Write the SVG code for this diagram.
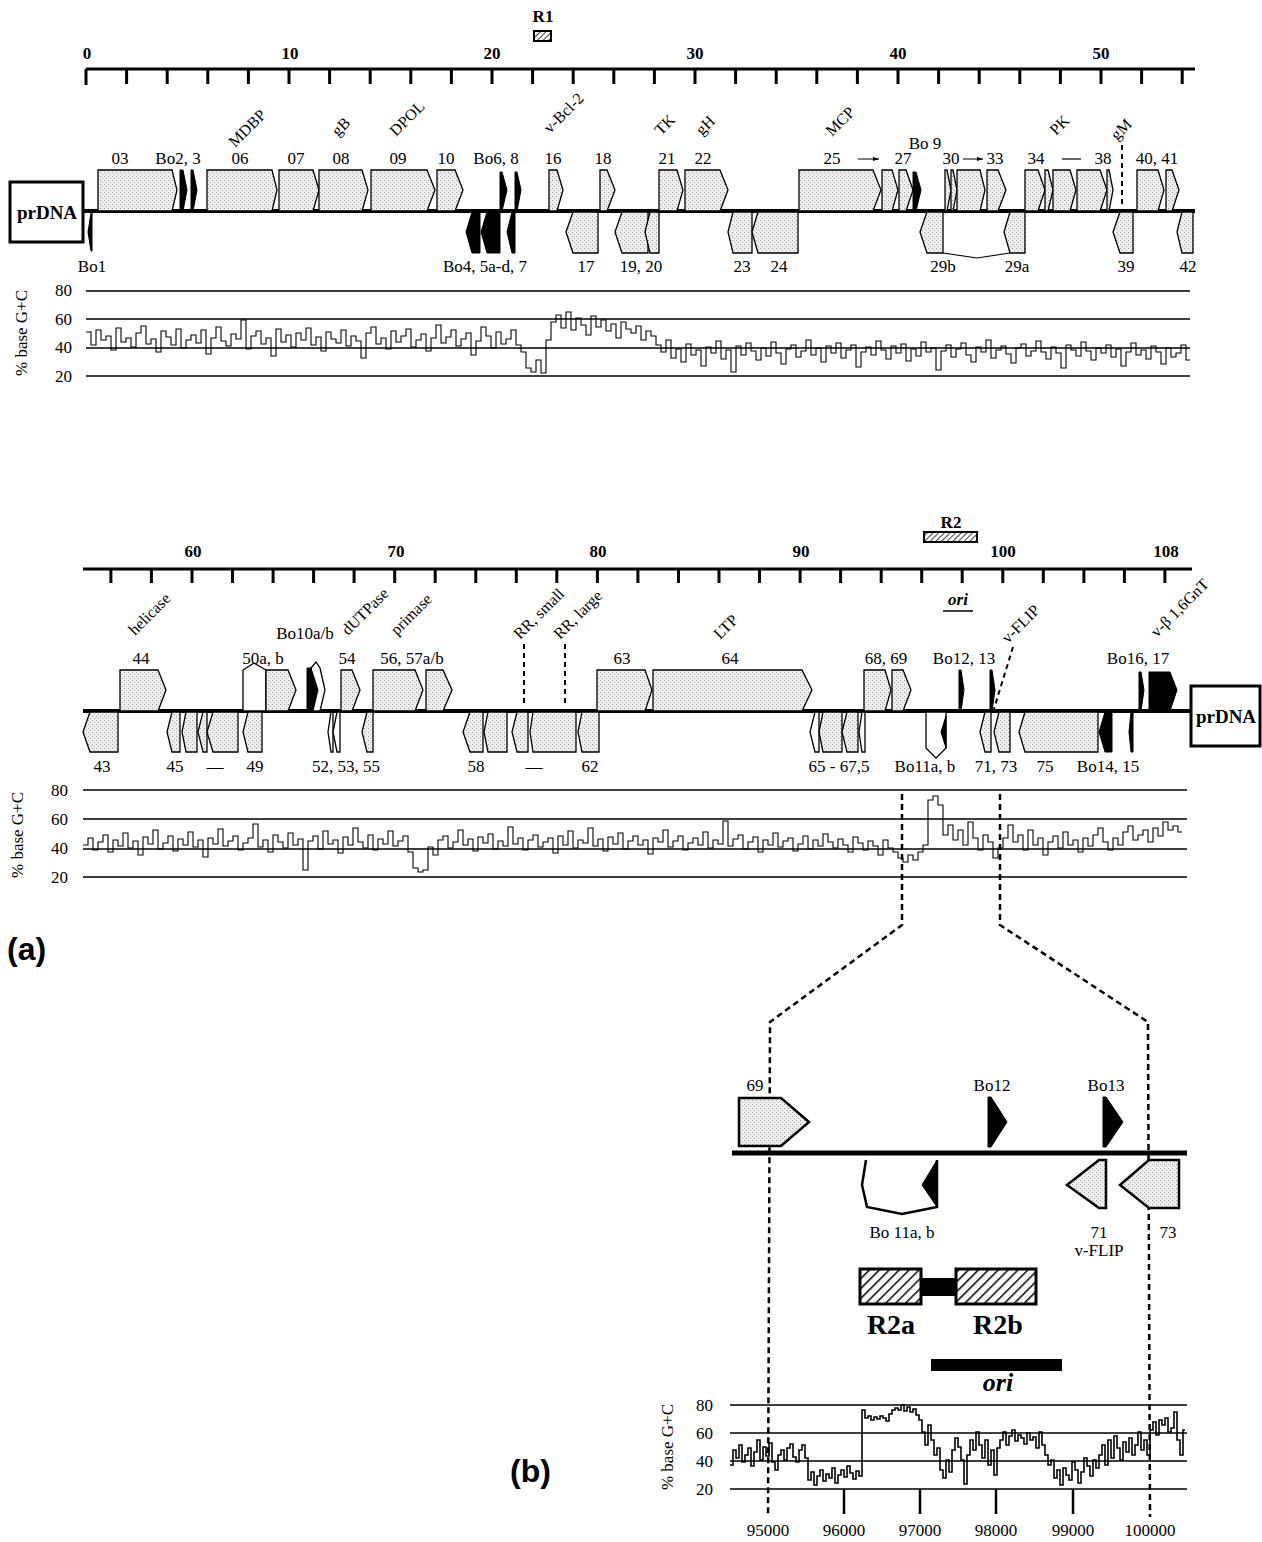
<svg xmlns="http://www.w3.org/2000/svg" width="1262" height="1542" viewBox="0 0 1262 1542">
<defs>
<pattern id="stip" width="4" height="4" patternUnits="userSpaceOnUse"><rect width="4" height="4" fill="#efefef"/><rect x="0" y="0" width="1" height="1" fill="#9a9a9a"/><rect x="2" y="2" width="1" height="1" fill="#b0b0b0"/></pattern>
<pattern id="hatch" width="7" height="7" patternUnits="userSpaceOnUse" patternTransform="rotate(45)"><rect width="7" height="7" fill="#fff"/><line x1="0" y1="0" x2="0" y2="7" stroke="#000" stroke-width="3"/></pattern>
<pattern id="hatchS" width="4" height="4" patternUnits="userSpaceOnUse" patternTransform="rotate(45)"><rect width="4" height="4" fill="#fff"/><line x1="0" y1="0" x2="0" y2="4" stroke="#000" stroke-width="1.5"/></pattern>
<marker id="ah" markerWidth="7" markerHeight="6" refX="6" refY="3" orient="auto" markerUnits="userSpaceOnUse"><path d="M0,1 L6,3 L0,5z" fill="#000"/></marker>
</defs>
<style>
.t{font-family:"Liberation Serif","Times New Roman",serif;font-size:17px;fill:#000}
.r{font-size:16px}
.b{font-weight:bold}
.m{text-anchor:middle}
.e{text-anchor:end}
.sans{font-family:"Liberation Sans",Arial,sans-serif;font-weight:bold;font-size:32px}
.g{fill:url(#stip);stroke:#000;stroke-width:1.3;stroke-linejoin:miter}
.k{fill:#000;stroke:#000;stroke-width:1}
.w{fill:#fff;stroke:#000;stroke-width:1.3}
.ax{stroke:#000;stroke-width:3;fill:none}
.tk{stroke:#000;stroke-width:3;fill:none}
.gl{stroke:#000;stroke-width:1.6;fill:none}
.tr{fill:none;stroke:#000;stroke-width:1.1}
.ds{stroke:#000;stroke-width:2.5;stroke-dasharray:6 4;fill:none}
.ds2{stroke:#000;stroke-width:2;stroke-dasharray:5 4;fill:none}
.box{fill:#fff;stroke:#000;stroke-width:3}
</style>
<rect width="1262" height="1542" fill="#fff"/>

<!-- ===== Panel (a) top row ===== -->
<g id="ruler1">
<path class="ax" d="M86,69H1195"/>
<path class="tk" d="M86,69V85M126.6,69v15M167.2,69v15M207.8,69v15M248.4,69v15M289,69v15M329.6,69v15M370.2,69v15M410.8,69v15M451.4,69v15M492,69v15M532.6,69v15M573.2,69v15M613.8,69v15M654.4,69v15M695,69v15M735.6,69v15M776.2,69v15M816.8,69v15M857.4,69v15M898,69v15M938.6,69v15M979.2,69v15M1019.8,69v15M1060.4,69v15M1101,69v15M1141.6,69v15M1182.2,69v15"/>
<text class="t b m" x="87" y="59">0</text>
<text class="t b m" x="290" y="59">10</text>
<text class="t b m" x="492" y="59">20</text>
<text class="t b m" x="695" y="59">30</text>
<text class="t b m" x="898" y="59">40</text>
<text class="t b m" x="1101" y="59">50</text>
</g>
<g id="R1">
<rect x="534" y="31" width="17" height="10" fill="url(#hatchS)" stroke="#000" stroke-width="2"/>
<text class="t b m" x="543" y="22">R1</text>
</g>

<g id="prDNA-left">
<rect class="box" x="10" y="182" width="73" height="60"/>
<text class="t b m" x="47" y="219" style="font-size:19px">prDNA</text>
</g>

<g id="genome1">
<path d="M83,211H1195" stroke="#000" stroke-width="4"/>
</g>

<g id="genes1-fwd">
<g id="orf03"><polygon class="g" points="98,170 172,170 177,190 172,211 98,211"/></g>
<g id="Bo2"><polygon class="k" points="180,170 183,170 187,190 183,211 180,211"/></g>
<g id="Bo3"><polygon class="k" points="191,170 193,170 197,190 193,211 191,211"/></g>
<g id="orf06"><polygon class="g" points="207,170 272,170 277,190 272,211 207,211"/></g>
<g id="orf07"><polygon class="g" points="279,170 313,170 319,190 313,211 279,211"/></g>
<g id="orf08"><polygon class="g" points="319,170 362,170 368,190 362,211 319,211"/></g>
<g id="orf09"><polygon class="g" points="371,170 427,170 435,190 427,211 371,211"/></g>
<g id="orf10"><polygon class="g" points="437,170 455,170 463,190 455,211 437,211"/></g>
<g id="Bo6"><polygon class="k" points="500,172 502,172 507,190 502,211 500,211"/></g>
<g id="Bo8"><polygon class="k" points="515,172 517,172 521,190 517,211 515,211"/></g>
<g id="orf16"><polygon class="g" points="549,170 557,170 563,190 557,211 549,211"/></g>
<g id="orf18"><polygon class="g" points="600,170 607,170 615,190 607,211 600,211"/></g>
<g id="orf21"><polygon class="g" points="659,170 677,170 683,190 677,211 659,211"/></g>
<g id="orf22"><polygon class="g" points="685,170 720,170 728,190 720,211 685,211"/></g>
<g id="orf25"><polygon class="g" points="799,170 873,170 881,190 873,211 799,211"/></g>
<g id="orf26"><polygon class="g" points="882,170 892,170 898,190 892,211 882,211"/></g>
<g id="orf27"><polygon class="g" points="899,170 906,170 913,190 906,211 899,211"/></g>
<g id="Bo9"><polygon class="k" points="913,172 916,172 921,190 916,211 913,211"/></g>
<g id="orf30"><polygon class="g" points="945,170 947,170 951,190 947,211 945,211"/></g>
<g id="orf31"><polygon class="g" points="951,170 953,170 957,190 953,211 951,211"/></g>
<g id="orf32"><polygon class="g" points="957,170 980,170 985,190 980,211 957,211"/></g>
<g id="orf33"><polygon class="g" points="987,170 998,170 1006,190 998,211 987,211"/></g>
<g id="orf34"><polygon class="g" points="1025,170 1038,170 1045,190 1038,211 1025,211"/></g>
<g id="orf35"><polygon class="g" points="1045,170 1048,170 1053,190 1048,211 1045,211"/></g>
<g id="orf36"><polygon class="g" points="1053,170 1070,170 1076,190 1070,211 1053,211"/></g>
<g id="orf37"><polygon class="g" points="1077,170 1100,170 1107,190 1100,211 1077,211"/></g>
<g id="orf38"><polygon class="g" points="1107,170 1109,170 1113,190 1109,211 1107,211"/></g>
<g id="orf40"><polygon class="g" points="1137,170 1158,170 1164,190 1158,211 1137,211"/></g>
<g id="orf41"><polygon class="g" points="1166,170 1172,170 1179,190 1172,211 1166,211"/></g>
</g>

<g id="genes1-rev">
<g id="Bo1"><polygon class="k" points="88,232 91,213 92,213 92,251 91,251"/></g>
<g id="Bo4"><polygon class="k" points="466,232 472,212 480,212 480,253 472,253"/></g>
<g id="Bo5"><polygon class="k" points="481,232 487,212 500,212 500,253 487,253"/></g>
<g id="Bo7"><polygon class="k" points="507,232 512,212 515,212 515,253 512,253"/></g>
<g id="orf17"><polygon class="g" points="566,232 573,212 598,212 598,253 573,253"/></g>
<g id="orf19"><polygon class="g" points="615,232 622,212 648,212 648,253 622,253"/></g>
<g id="orf20"><polygon class="g" points="645,232 650,212 659,212 659,253 650,253"/></g>
<g id="orf23"><polygon class="g" points="728,232 733,212 752,212 752,253 733,253"/></g>
<g id="orf24"><polygon class="g" points="752,232 758,212 798,212 798,253 758,253"/></g>
<g id="orf29b"><polygon class="g" points="920,232 927,212 943,212 943,253 927,253"/></g>
<g id="orf29a"><polygon class="g" points="1004,232 1010,212 1025,212 1025,253 1010,253"/></g>
<g id="orf39"><polygon class="g" points="1113,232 1120,212 1133,212 1133,253 1120,253"/></g>
<g id="orf42"><polygon class="g" points="1177,232 1182,212 1193,212 1193,253 1182,253"/></g>
</g>

<g id="labels1">
<text class="t m" x="120" y="164">03</text>
<text class="t m" x="178" y="164">Bo2, 3</text>
<text class="t m" x="240" y="164">06</text>
<text class="t m" x="296" y="164">07</text>
<text class="t m" x="341" y="164">08</text>
<text class="t m" x="398" y="164">09</text>
<text class="t m" x="446" y="164">10</text>
<text class="t m" x="496" y="164">Bo6, 8</text>
<text class="t m" x="553" y="164">16</text>
<text class="t m" x="603" y="164">18</text>
<text class="t m" x="667" y="164">21</text>
<text class="t m" x="703" y="164">22</text>
<text class="t m" x="832" y="164">25</text>
<text class="t m" x="903" y="164">27</text>
<text class="t m" x="925" y="149">Bo 9</text>
<text class="t m" x="951" y="164">30</text>
<text class="t m" x="995" y="164">33</text>
<text class="t m" x="1036" y="164">34</text>
<text class="t m" x="1103" y="164">38</text>
<text class="t m" x="1157" y="164">40, 41</text>
<text class="t m" x="92" y="272">Bo1</text>
<text class="t m" x="485" y="272">Bo4, 5a-d, 7</text>
<text class="t m" x="586" y="272">17</text>
<text class="t m" x="641" y="272">19, 20</text>
<text class="t m" x="742" y="272">23</text>
<text class="t m" x="779" y="272">24</text>
<text class="t m" x="943" y="272">29b</text>
<text class="t m" x="1017" y="272">29a</text>
<text class="t m" x="1126" y="272">39</text>
<text class="t m" x="1188" y="272">42</text>
<text class="t r" transform="rotate(-45 235 148)" x="235" y="148">MDBP</text>
<text class="t r" transform="rotate(-45 338 137)" x="338" y="137">gB</text>
<text class="t r" transform="rotate(-45 396 137)" x="396" y="137">DPOL</text>
<text class="t r" transform="rotate(-45 550 134)" x="550" y="134">v-Bcl-2</text>
<text class="t r" transform="rotate(-45 661 136)" x="661" y="136">TK</text>
<text class="t r" transform="rotate(-45 702 136)" x="702" y="136">gH</text>
<text class="t r" transform="rotate(-45 832 137)" x="832" y="137">MCP</text>
<text class="t r" transform="rotate(-45 1056 136)" x="1056" y="136">PK</text>
<text class="t r" transform="rotate(-45 1117 141)" x="1117" y="141">gM</text>
</g>

<g id="connectors1">
<path class="tr" d="M943,253 L977,258 L1010,253"/>
<line x1="858" y1="159" x2="879" y2="159" stroke="#000" stroke-width="1" marker-end="url(#ah)"/>
<line x1="963" y1="159" x2="983" y2="159" stroke="#000" stroke-width="1" marker-end="url(#ah)"/>
<line x1="1062" y1="159" x2="1081" y2="159" stroke="#000" stroke-width="1.2"/>
<line x1="1122" y1="145" x2="1122" y2="206" class="ds2"/>
</g>

<g id="gc1">
<path class="gl" d="M86,291H1190M86,319H1190M86,348H1190M86,376H1190"/>
<text class="t e" x="72" y="296">80</text>
<text class="t e" x="72" y="325">60</text>
<text class="t e" x="72" y="353">40</text>
<text class="t e" x="72" y="382">20</text>
<text class="t m" transform="rotate(-90 27 333)" x="27" y="333">% base G+C</text>
<path class="tr" d="M86,332h5V345h5V330h5V340h5V336h5V350h5V328h5V342h5V338h5V347h5V333h5V326h5V344h5V339h5V352h5V331h5V337h5V345h5V329h5V348h5V340h5V335h5V343h5V330h5V354h5V338h5V327h5V341h5V346h5V334h5V339h5V320h5V349h5V336h5V331h5V344h5V338h5V356h5V329h5V342h5V335h5V347h5V333h5V340h5V328h5V345h5V337h5V351h5V332h5V339h5V343h5V330h5V346h5V336h5V341h5V358h5V333h5V327h5V344h5V338h5V349h5V331h5V342h5V336h5V329h5V347h5V340h5V334h5V351h5V338h5V325h5V343h5V337h5V330h5V346h5V339h5V333h5V355h5V341h5V327h5V336h5V348h5V332h5V344h5V339h5V330h5V345h5V352h5V368h5V372h5V360h5V373h5V340h5V322h5V315h5V328h5V312h5V330h5V318h5V325h5V335h5V316h5V327h5V320h5V331h5V324h5V338h5V322h5V329h5V333h5V326h5V340h5V331h5V336h5V345h5V352h5V340h5V358h5V349h5V362h5V344h5V355h5V350h5V366h5V347h5V353h5V341h5V359h5V350h5V372h5V346h5V355h5V343h5V351h5V360h5V348h5V356h5V342h5V353h5V364h5V349h5V345h5V357h5V351h5V340h5V355h5V348h5V362h5V346h5V353h5V343h5V358h5V350h5V345h5V367h5V352h5V347h5V355h5V341h5V350h5V359h5V346h5V353h5V344h5V361h5V349h5V356h5V342h5V352h5V348h5V370h5V351h5V345h5V357h5V349h5V343h5V355h5V362h5V347h5V352h5V340h5V358h5V350h5V346h5V354h5V363h5V348h5V344h5V356h5V351h5V341h5V352h5V359h5V347h5V353h5V368h5V345h5V350h5V356h5V342h5V351h5V360h5V348h5V353h5V345h5V357h5V349h5V366h5V352h5V343h5V355h5V350h5V359h5V346h5V352h5V364h5V348h5V357h5V353h5V345h5V360h4"/>
</g>

<!-- ===== Panel (a) second row ===== -->
<g id="ruler2">
<path class="ax" d="M83,569H1192"/>
<path class="tk" d="M110.9,569v14M151.4,569v14M192,569v14M232.5,569v14M273.1,569v14M313.6,569v14M354.1,569v14M394.7,569v14M435.2,569v14M475.8,569v14M516.3,569v14M556.8,569v14M597.4,569v14M637.9,569v14M678.5,569v14M719,569v14M759.5,569v14M800.1,569v14M840.6,569v14M881.2,569v14M921.7,569v14M962.2,569v14M1002.8,569v14M1043.3,569v14M1083.9,569v14M1124.4,569v14M1164.9,569v14"/>
<text class="t b m" x="193" y="557">60</text>
<text class="t b m" x="396" y="557">70</text>
<text class="t b m" x="598" y="557">80</text>
<text class="t b m" x="801" y="557">90</text>
<text class="t b m" x="1003" y="557">100</text>
<text class="t b m" x="1166" y="557">108</text>
</g>
<g id="R2">
<rect x="924" y="532" width="53" height="10" fill="url(#hatchS)" stroke="#000" stroke-width="2"/>
<text class="t b m" x="951" y="528">R2</text>
</g>
<g id="ori-top">
<text class="t b m" x="958" y="605" style="font-style:italic">ori</text>
<line x1="943" y1="611" x2="973" y2="611" stroke="#000" stroke-width="1.5"/>
</g>

<g id="prDNA-right">
<rect class="box" x="1191" y="686" width="69" height="60"/>
<text class="t b m" x="1226" y="723" style="font-size:19px">prDNA</text>
</g>

<g id="genome2">
<path d="M83,711H1191" stroke="#000" stroke-width="4"/>
</g>

<g id="genes2-fwd">
<g id="orf44"><polygon class="g" points="120,670 158,670 166,690 158,711 120,711"/></g>
<g id="orf50a"><polygon class="w" points="243,670 254,663 266,670 266,711 243,711"/></g>
<g id="orf50b"><polygon class="g" points="266,670 288,670 296,690 288,711 266,711"/></g>
<g id="Bo10b"><polygon class="w" points="311,668 316,662 320,668 325,690 320,711 311,711"/></g>
<g id="Bo10a"><polygon class="k" points="307,668 311,668 318,690 313,711 307,711"/></g>
<g id="orf54"><polygon class="g" points="341,670 352,670 360,690 352,711 341,711"/></g>
<g id="orf56"><polygon class="g" points="373,670 415,670 423,690 415,711 373,711"/></g>
<g id="orf57"><polygon class="g" points="426,670 443,670 452,690 443,711 426,711"/></g>
<g id="orf63"><polygon class="g" points="597,670 645,670 652,690 645,711 597,711"/></g>
<g id="orf64"><polygon class="g" points="653,670 802,670 812,690 802,711 653,711"/></g>
<g id="orf68"><polygon class="g" points="864,670 885,670 891,690 885,711 864,711"/></g>
<g id="orf69"><polygon class="g" points="892,670 903,670 911,690 903,711 892,711"/></g>
<g id="Bo12"><polygon class="k" points="959,670 961,670 964,690 961,711 959,711"/></g>
<g id="Bo13"><polygon class="k" points="990,670 992,670 995,690 992,711 990,711"/></g>
<g id="Bo16"><polygon class="k" points="1139,672 1141,672 1144,690 1141,711 1139,711"/></g>
<g id="Bo17"><polygon class="k" points="1149,672 1170,672 1177,690 1170,711 1149,711"/></g>
</g>

<g id="genes2-rev">
<g id="orf43"><polygon class="g" points="83,732 90,712 118,712 118,752 90,752"/></g>
<g id="orf45"><polygon class="g" points="167,732 172,712 180,712 180,752 172,752"/></g>
<g id="orf46"><polygon class="g" points="182,732 186,712 197,712 197,752 186,752"/></g>
<g id="orf47"><polygon class="g" points="198,732 203,712 207,712 207,752 203,752"/></g>
<g id="orf48"><polygon class="g" points="207,732 213,712 238,712 238,752 213,752"/></g>
<g id="orf49"><polygon class="g" points="243,732 248,712 262,712 262,752 248,752"/></g>
<g id="orf52"><polygon class="w" points="328,732 331,712 333,712 333,752 331,752"/></g>
<g id="orf53"><polygon class="w" points="333,732 337,712 340,712 340,752 337,752"/></g>
<g id="orf55"><polygon class="g" points="362,732 367,712 373,712 373,752 367,752"/></g>
<g id="orf58"><polygon class="g" points="463,732 470,712 483,712 483,752 470,752"/></g>
<g id="orf59"><polygon class="g" points="484,732 488,712 507,712 507,752 488,752"/></g>
<g id="orf60"><polygon class="g" points="512,732 517,712 528,712 528,752 517,752"/></g>
<g id="orf61"><polygon class="g" points="530,732 533,712 576,712 576,752 533,752"/></g>
<g id="orf62"><polygon class="g" points="578,732 582,712 599,712 599,752 582,752"/></g>
<g id="orf65"><polygon class="w" points="810,732 815,712 819,712 819,752 815,752"/></g>
<g id="orf66"><polygon class="g" points="819,732 823,712 842,712 842,752 823,752"/></g>
<g id="orf67"><polygon class="g" points="842,732 847,712 858,712 858,752 847,752"/></g>
<g id="orf67_5"><polygon class="w" points="859,732 862,712 865,712 865,752 862,752"/></g>
<g id="Bo11"><polygon class="w" points="926,712 926,748 936,758 946,748 946,712"/><polygon class="k" points="946,716 941,732 946,748"/></g>
<g id="orf71"><polygon class="g" points="980,732 985,712 991,712 991,752 985,752"/></g>
<g id="orf73"><polygon class="g" points="994,732 999,712 1010,712 1010,752 999,752"/></g>
<g id="orf75"><polygon class="g" points="1019,732 1025,712 1098,712 1098,752 1025,752"/></g>
<g id="Bo14"><polygon class="k" points="1099,732 1105,712 1112,712 1112,752 1105,752"/></g>
<g id="Bo15"><polygon class="k" points="1129,732 1131,712 1133,712 1133,752 1131,752"/></g>
</g>

<g id="labels2">
<text class="t m" x="141" y="664">44</text>
<text class="t m" x="263" y="664">50a, b</text>
<text class="t m" x="305" y="639">Bo10a/b</text>
<text class="t m" x="347" y="664">54</text>
<text class="t m" x="412" y="664">56, 57a/b</text>
<text class="t m" x="622" y="664">63</text>
<text class="t m" x="730" y="664">64</text>
<text class="t m" x="886" y="664">68, 69</text>
<text class="t m" x="964" y="664">Bo12, 13</text>
<text class="t m" x="1138" y="664">Bo16, 17</text>
<text class="t m" x="102" y="772">43</text>
<text class="t m" x="175" y="772">45</text>
<text class="t m" x="215" y="772">—</text>
<text class="t m" x="255" y="772">49</text>
<text class="t m" x="346" y="772">52, 53, 55</text>
<text class="t m" x="476" y="772">58</text>
<text class="t m" x="534" y="772">—</text>
<text class="t m" x="590" y="772">62</text>
<text class="t m" x="839" y="772">65 - 67,5</text>
<text class="t m" x="925" y="772">Bo11a, b</text>
<text class="t m" x="996" y="772">71, 73</text>
<text class="t m" x="1045" y="772">75</text>
<text class="t m" x="1108" y="772">Bo14, 15</text>
<text class="t r" transform="rotate(-45 135 636)" x="135" y="636">helicase</text>
<text class="t r" transform="rotate(-45 348 636)" x="348" y="636">dUTPase</text>
<text class="t r" transform="rotate(-45 397 636)" x="397" y="636">primase</text>
<text class="t r" transform="rotate(-45 520 640)" x="520" y="640">RR, small</text>
<text class="t r" transform="rotate(-45 560 640)" x="560" y="640">RR, large</text>
<text class="t r" transform="rotate(-45 720 640)" x="720" y="640">LTP</text>
<text class="t r" transform="rotate(-45 1008 644)" x="1008" y="644">v-FLIP</text>
<text class="t r" transform="rotate(-45 1157 638)" x="1157" y="638">v-β 1,6GnT</text>
</g>

<g id="connectors2">
<line x1="524" y1="644" x2="524" y2="706" class="ds2"/>
<line x1="565" y1="644" x2="565" y2="706" class="ds2"/>
<line x1="1013" y1="647" x2="993" y2="712" class="ds2"/>
</g>

<g id="gc2">
<path class="gl" d="M83,790H1187M83,819H1187M83,849H1187M83,877H1187"/>
<text class="t e" x="68" y="796">80</text>
<text class="t e" x="68" y="825">60</text>
<text class="t e" x="68" y="854">40</text>
<text class="t e" x="68" y="883">20</text>
<text class="t m" transform="rotate(-90 23 835)" x="23" y="835">% base G+C</text>
<path class="tr" d="M83,845h5V838h5V850h5V842h5V835h5V852h5V840h5V846h5V833h5V848h5V841h5V855h5V837h5V844h5V830h5V849h5V843h5V836h5V851h5V839h5V845h5V832h5V847h5V840h5V857h5V838h5V844h5V829h5V846h5V841h5V836h5V850h5V843h5V838h5V824h5V847h5V840h5V852h5V835h5V842h5V848h5V833h5V845h5V839h5V870h5V841h5V836h5V849h5V831h5V844h5V840h5V853h5V837h5V845h5V828h5V842h5V848h5V835h5V850h5V839h5V844h5V831h5V846h5V841h5V836h5V852h5V868h5V872h5V870h5V847h5V855h5V840h5V836h5V848h5V842h5V830h5V845h5V839h5V851h5V837h5V843h5V834h5V849h5V841h5V846h5V827h5V844h5V838h5V850h5V840h5V835h5V847h5V842h5V838h5V853h5V836h5V845h5V831h5V848h5V840h5V843h5V828h5V846h5V839h5V851h5V837h5V844h5V833h5V849h5V841h5V836h5V845h5V840h5V854h5V838h5V842h5V830h5V847h5V841h5V836h5V850h5V843h5V838h5V845h5V832h5V848h5V840h5V844h5V821h5V846h5V839h5V835h5V849h5V842h5V837h5V852h5V840h5V845h5V833h5V847h5V841h5V838h5V851h5V844h5V836h5V849h5V840h5V846h5V834h5V842h5V848h5V839h5V845h5V852h5V837h5V843h5V850h5V841h5V846h5V855h5V840h5V848h5V852h5V858h5V862h5V855h5V860h5V852h5V845h5V800h5V796h5V805h5V835h5V825h5V840h5V830h5V845h5V822h5V838h5V850h5V835h5V842h5V858h5V848h5V838h5V825h5V842h5V835h5V850h5V830h5V845h5V838h5V855h5V842h5V836h5V848h5V832h5V845h5V840h5V852h5V838h5V846h5V835h5V828h5V842h5V850h5V838h5V845h5V832h5V826h5V840h5V835h5V830h5V842h5V828h5V836h5V822h5V830h5V826h5V832h4"/>
</g>

<text class="sans" x="7" y="960">(a)</text>

<!-- ===== zoom connectors ===== -->
<g id="zoom-lines">
<polyline class="ds" points="902,794 902,925 770,1022 768,1517"/>
<polyline class="ds" points="1000,794 1000,925 1148,1022 1150,1517"/>
</g>

<!-- ===== Panel (b) ===== -->
<g id="genome3">
<path d="M732,1153H1187" stroke="#000" stroke-width="5"/>
</g>
<g id="b-orf69"><polygon class="g" points="739,1098 781,1098 809,1122 781,1146 739,1146" style="stroke-width:2.5"/><text class="t m" x="755" y="1091">69</text></g>
<g id="b-Bo12"><polygon class="k" points="988,1097 991,1097 1007,1122 991,1147 988,1147"/><text class="t m" x="992" y="1091">Bo12</text></g>
<g id="b-Bo13"><polygon class="k" points="1103,1097 1106,1097 1123,1122 1106,1147 1103,1147"/><text class="t m" x="1106" y="1091">Bo13</text></g>
<g id="b-Bo11"><polyline points="866,1160 862,1185 867,1207 902,1214 937,1207 937,1160" fill="none" stroke="#000" stroke-width="2.5"/><polygon class="k" points="937,1160 922,1185 937,1207"/><text class="t m" x="902" y="1238">Bo 11a, b</text></g>
<g id="b-orf71"><polygon class="g" points="1099,1160 1067,1185 1099,1208 1106,1208 1106,1160" style="stroke-width:2.5"/><text class="t m" x="1099" y="1238">71</text><text class="t m" x="1099" y="1256">v-FLIP</text></g>
<g id="b-orf73"><polygon class="g" points="1149,1160 1120,1185 1149,1208 1179,1208 1179,1160" style="stroke-width:2.5"/><text class="t m" x="1168" y="1238">73</text></g>

<g id="R2a-R2b">
<rect x="921" y="1278" width="36" height="18" fill="#000"/>
<rect x="860" y="1269" width="61" height="35" fill="url(#hatch)" stroke="#000" stroke-width="3"/>
<rect x="956" y="1269" width="80" height="35" fill="url(#hatch)" stroke="#000" stroke-width="3"/>
<text class="t b m" x="891" y="1334" style="font-size:28px">R2a</text>
<text class="t b m" x="998" y="1334" style="font-size:28px">R2b</text>
</g>
<g id="ori-b">
<rect x="931" y="1359" width="131" height="12" fill="#000"/>
<text class="t b m" x="998" y="1391" style="font-size:26px;font-style:italic">ori</text>
</g>

<g id="gc3">
<path class="gl" d="M730,1405H1187M730,1433H1187M730,1461H1187M730,1489H1187"/>
<path class="tk" d="M844,1489v25M920,1489v25M996,1489v25M1073,1489v25" style="stroke-width:2.5"/>
<text class="t e" x="713" y="1411">80</text>
<text class="t e" x="713" y="1439">60</text>
<text class="t e" x="713" y="1467">40</text>
<text class="t e" x="713" y="1495">20</text>
<text class="t m" transform="rotate(-90 673 1447)" x="673" y="1447">% base G+C</text>
<text class="t m" x="768" y="1536">95000</text>
<text class="t m" x="844" y="1536">96000</text>
<text class="t m" x="920" y="1536">97000</text>
<text class="t m" x="996" y="1536">98000</text>
<text class="t m" x="1073" y="1536">99000</text>
<text class="t m" x="1150" y="1536">100000</text>
<path class="tr" style="stroke-width:1.6" d="M730,1465h3V1450h3V1458h3V1445h3V1462h3V1455h3V1448h3V1466h3V1452h3V1440h3V1460h3V1447h3V1456h3V1443h3V1462h3V1470h3V1455h3V1450h3V1460h3V1448h3V1444h3V1457h3V1462h3V1450h3V1445h3V1458h3V1480h3V1472h3V1485h3V1476h3V1470h3V1481h3V1474h3V1478h3V1468h3V1483h3V1475h3V1470h3V1477h3V1466h3V1473h3V1479h3V1471h3V1476h3V1410h3V1418h3V1416h3V1420h3V1417h3V1419h3V1416h3V1418h3V1421h3V1414h3V1410h3V1408h3V1410h3V1405h3V1411h3V1407h3V1412h3V1409h3V1415h3V1420h3V1432h3V1445h3V1425h3V1440h3V1455h3V1448h3V1470h3V1478h3V1460h3V1472h3V1450h3V1438h3V1447h3V1460h3V1484h3V1455h3V1440h3V1450h3V1432h3V1445h3V1458h3V1440h3V1465h3V1450h3V1475h3V1448h3V1440h3V1432h3V1445h3V1436h3V1430h3V1441h3V1435h3V1438h3V1444h3V1433h3V1440h3V1437h3V1448h3V1432h3V1445h3V1455h3V1465h3V1460h3V1478h3V1470h3V1485h3V1468h3V1475h3V1480h3V1462h3V1470h3V1483h3V1472h3V1458h3V1466h3V1476h3V1460h3V1468h3V1455h3V1445h3V1465h3V1440h3V1458h3V1436h3V1448h3V1460h3V1442h3V1452h3V1438h3V1455h3V1445h3V1432h3V1450h3V1440h3V1455h3V1430h3V1422h3V1435h3V1420h3V1425h3V1418h3V1432h3V1428h3V1412h3V1440h3V1455h3V1430h2"/>
</g>

<text class="sans" x="510" y="1482">(b)</text>
</svg>
